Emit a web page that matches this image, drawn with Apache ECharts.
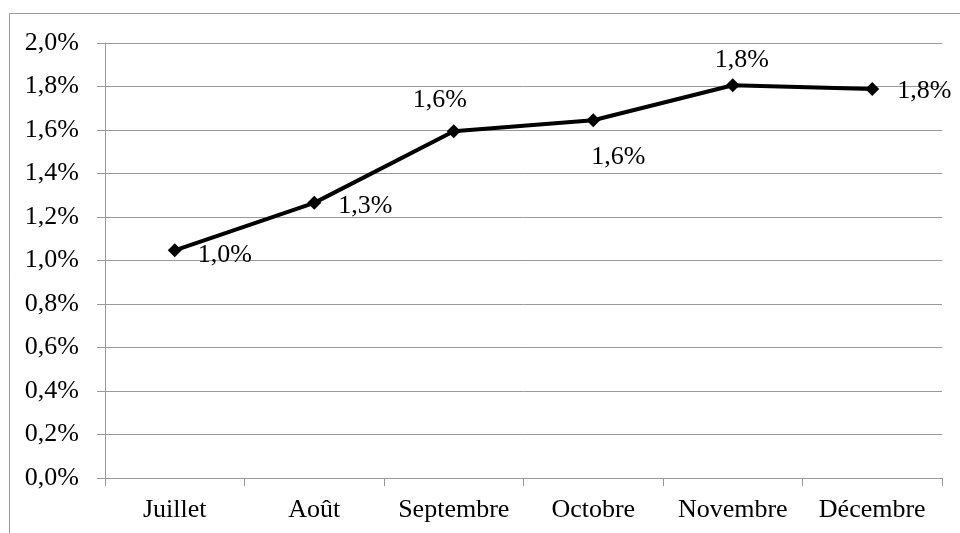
<!DOCTYPE html>
<html>
<head>
<meta charset="utf-8">
<script src="https://cdn.jsdelivr.net/npm/echarts@6/dist/echarts.min.js"></script>
<style>
html, body { margin: 0; padding: 0; background: #fff; }
#main { width: 960px; height: 533px; }
</style>
</head>
<body>
<div id="main"></div>
<script>
var months = ['Juillet', 'Août', 'Septembre', 'Octobre', 'Novembre', 'Décembre'];
var rates = [1.047, 1.265, 1.594, 1.645, 1.806, 1.788];
var yTicks = [0, 0.2, 0.4, 0.6, 0.8, 1.0, 1.2, 1.4, 1.6, 1.8, 2.0];

function pct(v) {
	return v.toFixed(1).replace('.', ',') + '%';
}

// where each label sits relative to its point
var labelPlace = [
	{ position: 'right', offset: [11, 5] },
	{ position: 'right', offset: [12, 3] },
	{ position: 'top', offset: [-14, -6] },
	{ position: 'bottom', offset: [25, 12] },
	{ position: 'top', offset: [9, 0] },
	{ position: 'right', offset: [13, 2] }
];

var seriesData = rates.map(function (v, i) {
	return { value: v, label: labelPlace[i] };
});

var dom = document.getElementById('main');
var myChart = echarts.init(dom);
var option = {
	backgroundColor: '#fff',
	animation: false,
	textStyle: { fontFamily: 'Liberation Serif, Times New Roman, serif' },
	graphic: [{
		type: 'rect',
		shape: { x: 9.5, y: 13.5, width: 1000, height: 600 },
		style: { fill: 'none', stroke: '#999', lineWidth: 1 }
	}],
	grid: { left: 105, right: 18, top: 43, bottom: 55 },
	xAxis: {
		type: 'category',
		data: months,
		boundaryGap: true,
		axisLine: { lineStyle: { color: '#999', width: 1 } },
		axisTick: { show: true, length: 8, inside: false, interval: 0, lineStyle: { color: '#999' } },
		axisLabel: { color: '#000', fontSize: 26, margin: 19, interval: 0, hideOverlap: false, fontFamily: 'Liberation Serif' }
	},
	yAxis: {
		type: 'value',
		min: yTicks[0],
		max: yTicks[yTicks.length - 1],
		interval: 0.2,
		axisLine: { show: true, lineStyle: { color: '#999', width: 1 } },
		axisTick: { show: true, length: 8, lineStyle: { color: '#999' } },
		splitLine: { lineStyle: { color: '#999', width: 1 } },
		axisLabel: {
			color: '#000', fontSize: 26, margin: 26, fontFamily: 'Liberation Serif',
			formatter: function (v) { return pct(v); }
		}
	},
	series: [{
		type: 'line',
		data: seriesData,
		symbol: 'diamond',
		symbolSize: 14,
		lineStyle: { color: '#000', width: 4 },
		itemStyle: { color: '#000' },
		label: {
			show: true,
			color: '#000',
			fontSize: 26,
			fontFamily: 'Liberation Serif',
			formatter: function (p) { return pct(p.value); }
		}
	}]
};
if (option && typeof option === "object") {
	myChart.setOption(option, true);
}
</script>
</body>
</html>
